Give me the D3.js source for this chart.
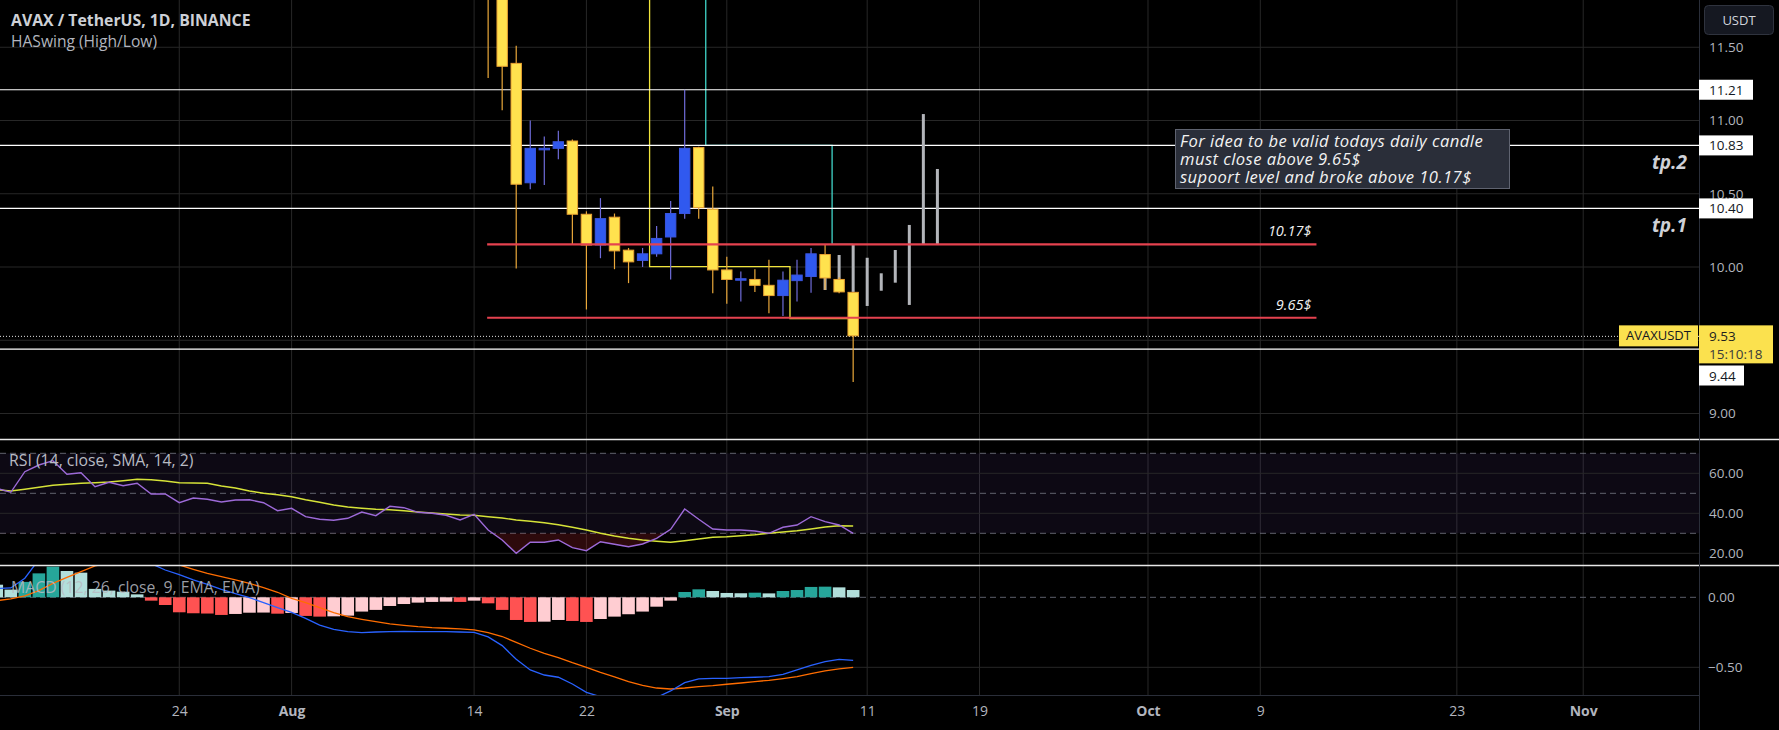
<!DOCTYPE html>
<html><head><meta charset="utf-8">
<script src="https://cdn.jsdelivr.net/npm/d3@7"></script>
<style>
html,body{margin:0;padding:0;background:#000;overflow:hidden;}
svg{display:block;font-family:"Open Sans",sans-serif;}
</style></head><body>
<svg id="c" width="1779" height="730"></svg>
<script>
// ---------------- DATA ----------------
const candleDates = ["2023-08-15","2023-08-16","2023-08-17","2023-08-18","2023-08-19","2023-08-20","2023-08-21","2023-08-22","2023-08-23","2023-08-24","2023-08-25","2023-08-26","2023-08-27","2023-08-28","2023-08-29","2023-08-30","2023-08-31","2023-09-01","2023-09-02","2023-09-03","2023-09-04","2023-09-05","2023-09-06","2023-09-07","2023-09-08","2023-09-09","2023-09-10"];
const candleOpen  = [12.30,11.93,11.39,10.575,10.80,10.81,10.86,10.36,10.15,10.34,10.115,10.045,10.09,10.205,10.365,10.815,10.395,9.98,9.915,9.915,9.875,9.805,9.907,9.935,10.085,9.915,9.827];
const candleHigh  = [12.45,12.00,11.51,11.00,10.89,10.93,10.87,10.38,10.47,10.365,10.13,10.13,10.28,10.45,11.21,10.82,10.55,10.07,9.97,9.985,10.05,9.97,10.05,10.13,10.15,9.93,9.83];
const candleLow   = [11.29,11.07,9.99,10.53,10.56,10.735,10.155,9.71,10.06,9.985,9.89,10.00,10.07,9.915,10.33,10.33,9.82,9.75,9.765,9.83,9.685,9.665,9.765,9.825,9.845,9.82,9.215];
const candleClose = [11.93,11.37,10.565,10.81,10.81,10.855,10.36,10.15,10.33,10.11,10.035,10.09,10.195,10.365,10.81,10.405,9.98,9.915,9.92,9.875,9.805,9.91,9.945,10.09,9.925,9.83,9.53];

// projected bar pattern (grey bars)
const patternDates = ["2023-09-08","2023-09-09","2023-09-10","2023-09-11","2023-09-12","2023-09-13","2023-09-14","2023-09-15","2023-09-16"];
const patternHigh  = [10.08,10.082,10.15,10.063,9.957,10.116,10.287,11.044,10.669];
const patternLow   = [9.843,9.831,9.83,9.734,9.838,9.893,9.741,10.15,10.15];

// HASwing step lines
const swingLowDates  = ["2023-08-26","2023-08-27","2023-08-28","2023-08-29","2023-08-30","2023-08-31","2023-09-01","2023-09-02","2023-09-03","2023-09-04","2023-09-05","2023-09-06","2023-09-07","2023-09-08","2023-09-09","2023-09-10"];
const swingLowValues = [12.6,10.002,10.002,10.002,10.002,10.002,10.002,10.002,10.002,10.002,10.002,9.648,9.648,9.648,9.648,9.648];
const swingHighDates  = ["2023-08-30","2023-08-31","2023-09-01","2023-09-02","2023-09-03","2023-09-04","2023-09-05","2023-09-06","2023-09-07","2023-09-08","2023-09-09","2023-09-10"];
const swingHighValues = [12.8,10.83,10.83,10.83,10.83,10.83,10.83,10.83,10.83,10.83,10.155,10.155];

// horizontal levels
const levelValues = [11.21, 10.83, 10.40, 9.44];
const levelLabels = ["11.21","10.83","10.40","9.44"];
const supportValues = [10.155, 9.6535];
const supportLabels = ["10.17$","9.65$"];
const supportStart = "2023-08-15", supportEnd = "2023-10-13";
const lastPrice = 9.53;
const countdown = "15:10:18";
const symbolName = "AVAXUSDT";
const targetLabels = [{text:"tp.2", price:10.713}, {text:"tp.1", price:10.283}];
const noteLines = ["For idea to be valid todays daily candle","must close above 9.65$","supoort level and broke above 10.17$"];

// indicators: one value per day from 2023-07-11 to 2023-09-10
const indicatorStart = "2023-07-11", indicatorEnd = "2023-09-11";
const rsiValues = [52.5,50.5,60.8,64.15,66.3,59.5,60.3,53.3,55.5,53.8,55.0,49.65,49.65,45.3,47.65,47.0,45.65,46.65,46.8,45.3,41.3,42.5,38.3,37.0,36.5,37.5,40.65,38.8,43.5,42.8,40.5,40.0,39.0,36.65,39.5,31.65,26.65,20.0,25.5,25.5,26.65,22.8,21.3,25.8,24.5,23.3,24.65,27.5,32.0,42.15,37.0,32.15,31.65,31.65,31.15,30.0,33.0,34.15,38.3,35.8,34.15,30.0];
const rsiSmaValues = [51.8,51.15,52.0,53.0,54.0,54.5,55.0,55.3,55.65,56.3,57.0,56.8,56.15,55.3,55.15,55.0,53.65,52.65,51.15,50.0,49.3,48.3,46.8,45.5,44.15,43.15,42.5,42.0,41.8,41.3,40.65,40.15,39.65,39.15,39.0,38.3,37.65,36.65,36.0,35.3,34.3,33.0,31.65,30.0,28.65,27.5,26.65,26.0,25.5,26.3,27.15,28.0,28.3,28.8,29.3,30.0,30.65,31.3,32.15,33.15,33.8,33.65];
const macdValues = [0.062,0.067,0.136,0.27,0.33,0.35,0.36,0.34,0.31,0.29,0.265,0.24,0.195,0.162,0.124,0.093,0.057,0.026,-0.002,-0.038,-0.074,-0.107,-0.15,-0.198,-0.229,-0.245,-0.252,-0.248,-0.245,-0.243,-0.245,-0.245,-0.245,-0.248,-0.25,-0.283,-0.345,-0.443,-0.519,-0.555,-0.571,-0.619,-0.679,-0.71,-0.725,-0.735,-0.735,-0.715,-0.669,-0.61,-0.583,-0.579,-0.579,-0.574,-0.571,-0.567,-0.55,-0.519,-0.486,-0.46,-0.443,-0.45];
const signalValues = [-0.024,-0.012,0.01,0.048,0.1,0.143,0.183,0.224,0.245,0.258,0.265,0.265,0.255,0.231,0.2,0.171,0.148,0.124,0.1,0.069,0.036,-0.007,-0.038,-0.074,-0.11,-0.138,-0.157,-0.174,-0.19,-0.2,-0.21,-0.217,-0.221,-0.226,-0.233,-0.252,-0.28,-0.322,-0.364,-0.4,-0.431,-0.467,-0.5,-0.536,-0.569,-0.602,-0.629,-0.648,-0.655,-0.648,-0.638,-0.631,-0.621,-0.612,-0.602,-0.593,-0.581,-0.567,-0.545,-0.526,-0.512,-0.5];
const histValues = [0.09,0.055,0.11,0.171,0.219,0.188,0.176,0.06,0.048,0.04,0.021,-0.024,-0.055,-0.107,-0.114,-0.116,-0.126,-0.119,-0.11,-0.109,-0.117,-0.112,-0.133,-0.138,-0.136,-0.131,-0.102,-0.09,-0.062,-0.048,-0.038,-0.033,-0.031,-0.033,-0.024,-0.043,-0.09,-0.162,-0.176,-0.174,-0.162,-0.169,-0.176,-0.155,-0.138,-0.121,-0.102,-0.067,-0.024,0.038,0.057,0.045,0.031,0.029,0.033,0.028,0.045,0.052,0.074,0.076,0.071,0.052];
const histBefore = 0.1;

// axes
const priceTicks = [11.5, 11.0, 10.5, 10.0, 9.0];
const priceGrid  = [11.5, 11.0, 10.5, 10.0, 9.5, 9.0];
const rsiTicks = [60, 40, 20];
const rsiLevels = [70, 50, 30];
const macdTicks = [0, -0.5];
const timeTickDates  = ["2023-07-24","2023-08-01","2023-08-14","2023-08-22","2023-09-01","2023-09-11","2023-09-19","2023-10-01","2023-10-09","2023-10-23","2023-11-01"];
const timeTickLabels = ["24","Aug","14","22","Sep","11","19","Oct","9","23","Nov"];

// ---------------- LAYOUT ----------------
const W = 1779, H = 730, plotR = 1699;
const mainP = {top:0, bottom:439};
const rsiP  = {top:440, bottom:565};
const macdP = {top:566, bottom:695};
const D = s => new Date(s);

const svg = d3.select("#c");
const x = d3.scaleUtc().domain([D("2023-07-12"), D("2023-09-11")]).range([10.8, 867.2]);
const yP = d3.scaleLinear().domain([9, 11.5]).range([413.5, 47.25]);
const yR = d3.scaleLinear().domain([20, 70]).range([553.3, 453.3]);
const yM = d3.scaleLinear().domain([-0.5, 0]).range([667.3, 597.3]);

svg.append("rect").attr("width",W).attr("height",H).attr("fill","#000");
const defs = svg.append("defs");
function clip(id, p){ defs.append("clipPath").attr("id",id).append("rect").attr("x",0).attr("y",p.top).attr("width",plotR).attr("height",p.bottom-p.top); }
clip("cMain", mainP); clip("cRsi", rsiP); clip("cMacd", macdP);
defs.append("clipPath").attr("id","cOS").append("rect").attr("x",0).attr("y",yR(30)).attr("width",plotR).attr("height",rsiP.bottom-yR(30));

const gridC = "#272727";
// vertical grid
svg.append("g").selectAll("line").data(timeTickDates).join("line")
  .attr("x1",d=>x(D(d))).attr("x2",d=>x(D(d))).attr("y1",0).attr("y2",696)
  .attr("stroke",gridC).attr("stroke-width",1);
// horizontal grid main
svg.append("g").selectAll("line").data(priceGrid).join("line")
  .attr("x1",0).attr("x2",plotR).attr("y1",d=>yP(d)).attr("y2",d=>yP(d)).attr("stroke",gridC);
// RSI band
svg.append("rect").attr("x",0).attr("width",plotR).attr("y",yR(70)).attr("height",yR(30)-yR(70)).attr("fill","rgba(126,87,194,0.1)");
svg.append("g").selectAll("line").data(rsiTicks).join("line")
  .attr("x1",0).attr("x2",plotR).attr("y1",d=>yR(d)).attr("y2",d=>yR(d)).attr("stroke",gridC);
svg.append("g").selectAll("line").data(rsiLevels).join("line")
  .attr("x1",0).attr("x2",plotR).attr("y1",d=>yR(d)).attr("y2",d=>yR(d))
  .attr("stroke","#787b86").attr("stroke-dasharray","6,4").attr("stroke-opacity",0.8);
// MACD grid
svg.append("line").attr("x1",0).attr("x2",plotR).attr("y1",yM(-0.5)).attr("y2",yM(-0.5)).attr("stroke",gridC);
svg.append("line").attr("x1",0).attr("x2",plotR).attr("y1",yM(0)).attr("y2",yM(0)).attr("stroke","#5d606b").attr("stroke-dasharray","6,4");

// ---------- MAIN PANE ----------
const gMain = svg.append("g").attr("clip-path","url(#cMain)");
// HASwing lines
const swingLine = d3.line().curve(d3.curveStep).x(d=>x(D(d[0]))).y(d=>yP(d[1]));
gMain.append("path").datum(d3.zip(swingHighDates, swingHighValues)).attr("d",swingLine)
  .attr("fill","none").attr("stroke","#40d4c8").attr("stroke-width",1.3);
gMain.append("path").datum(d3.zip(swingLowDates, swingLowValues)).attr("d",swingLine)
  .attr("fill","none").attr("stroke","#f0e43c").attr("stroke-width",1.3);

// white levels
gMain.append("g").selectAll("line").data(levelValues).join("line")
  .attr("x1",0).attr("x2",plotR).attr("y1",d=>yP(d)).attr("y2",d=>yP(d))
  .attr("stroke","#ffffff").attr("stroke-width",1.2);
// last price dotted
gMain.append("line").attr("x1",0).attr("x2",plotR).attr("y1",yP(lastPrice)+0.5).attr("y2",yP(lastPrice)+0.5)
  .attr("stroke","#e6e6e6").attr("stroke-dasharray","1,2").attr("stroke-width",1);

// pattern bars
const bw = 10.4;
gMain.append("g").selectAll("rect").data(patternDates).join("rect")
  .attr("x",(d)=>x(D(d))-1.5).attr("width",3)
  .attr("y",(d,i)=>yP(patternHigh[i])).attr("height",(d,i)=>yP(patternLow[i])-yP(patternHigh[i]))
  .attr("fill","#b3b5ba");

// candles
const cg = gMain.append("g").selectAll("g").data(candleDates).join("g");
cg.append("line")
  .attr("x1",d=>x(D(d))).attr("x2",d=>x(D(d)))
  .attr("y1",(d,i)=>yP(candleHigh[i])).attr("y2",(d,i)=>yP(candleLow[i]))
  .attr("stroke",(d,i)=>candleClose[i]>=candleOpen[i]?"#6f6cd9":"#eaa83a").attr("stroke-width",1.2);
cg.append("rect")
  .attr("x",d=>x(D(d))-bw/2).attr("width",bw)
  .attr("y",(d,i)=>yP(Math.max(candleOpen[i],candleClose[i])))
  .attr("height",(d,i)=>Math.max(1.5,Math.abs(yP(candleOpen[i])-yP(candleClose[i]))))
  .attr("fill",(d,i)=>candleClose[i]>=candleOpen[i]?"#3059ef":"#ffe24e")
  .attr("stroke",(d,i)=>candleClose[i]>=candleOpen[i]?"#3a55e0":"#e9a233").attr("stroke-width",1);

// red support lines
gMain.append("g").selectAll("line").data(supportValues).join("line")
  .attr("x1",x(D(supportStart))-1).attr("x2",x(D(supportEnd)))
  .attr("y1",d=>yP(d)).attr("y2",d=>yP(d)).attr("stroke","#e5424f").attr("stroke-width",2.2);
gMain.append("g").selectAll("text").data(supportValues).join("text")
  .attr("x",x(D(supportEnd))-5).attr("y",d=>yP(d)-8)
  .attr("text-anchor","end").attr("fill","#f0f0f0").attr("font-size",14.5).attr("font-style","italic")
  .text((d,i)=>supportLabels[i]);

// note box
const nb = gMain.append("g");
nb.append("rect").attr("x",1175.5).attr("y",129.5).attr("width",334).attr("height",59)
  .attr("fill","#2a2e39").attr("stroke","#5f6370").attr("stroke-width",1);
nb.append("text").attr("fill","#f2f2f2").attr("font-size",16.6).attr("font-style","italic").attr("letter-spacing",0.45)
  .selectAll("tspan").data(noteLines).join("tspan")
  .attr("x",1180).attr("y",(d,i)=>147+i*18).text(d=>d);

// tp labels
gMain.append("g").selectAll("text").data(targetLabels).join("text")
  .attr("x",1687).attr("y",d=>yP(d.price)+6).attr("text-anchor","end")
  .attr("fill","#cfd1d7").attr("font-size",19).attr("font-weight","bold").attr("font-style","italic")
  .text(d=>d.text);

// ---------- RSI PANE ----------
const days = d3.utcDay.range(D(indicatorStart), D(indicatorEnd));
const gR = svg.append("g").attr("clip-path","url(#cRsi)");
gR.append("path").datum(days).attr("clip-path","url(#cOS)")
  .attr("d", d3.area().x(d=>x(d)).y0(yR(30)).y1((d,i)=>yR(rsiValues[i])))
  .attr("fill","rgba(190,40,50,0.24)");
gR.append("path").datum(days)
  .attr("d", d3.line().x(d=>x(d)).y((d,i)=>yR(rsiSmaValues[i])))
  .attr("fill","none").attr("stroke","#d6e338").attr("stroke-width",1.4);
gR.append("path").datum(days)
  .attr("d", d3.line().x(d=>x(d)).y((d,i)=>yR(rsiValues[i])))
  .attr("fill","none").attr("stroke","#9d6ad8").attr("stroke-width",1.4);

// ---------- MACD PANE ----------
const gM = svg.append("g").attr("clip-path","url(#cMacd)");
const hw = 12.6;
gM.append("g").selectAll("rect").data(days).join("rect")
  .attr("x",d=>x(d)-hw/2).attr("width",hw)
  .attr("y",(d,i)=>Math.min(yM(0),yM(histValues[i])))
  .attr("height",(d,i)=>Math.abs(yM(histValues[i])-yM(0)))
  .attr("fill",(d,i)=>{
    const v=histValues[i], p=i>0?histValues[i-1]:histBefore;
    return v>=0 ? (v>p?"#26a69a":"#b2dfdb") : (v<p?"#ff5252":"#ffcdd2");
  });
gM.append("path").datum(days)
  .attr("d", d3.line().x(d=>x(d)).y((d,i)=>yM(signalValues[i])))
  .attr("fill","none").attr("stroke","#ff6d00").attr("stroke-width",1.3);
gM.append("path").datum(days)
  .attr("d", d3.line().x(d=>x(d)).y((d,i)=>yM(macdValues[i])))
  .attr("fill","none").attr("stroke","#2962ff").attr("stroke-width",1.3);

// ---------- separators / borders ----------
svg.append("line").attr("x1",0).attr("x2",W).attr("y1",439.5).attr("y2",439.5).attr("stroke","#e8e8e8").attr("stroke-width",1.3);
svg.append("line").attr("x1",0).attr("x2",W).attr("y1",565.5).attr("y2",565.5).attr("stroke","#e8e8e8").attr("stroke-width",1.3);
svg.append("line").attr("x1",0).attr("x2",plotR).attr("y1",695.5).attr("y2",695.5).attr("stroke","#2a2e39");
svg.append("line").attr("x1",plotR+0.5).attr("x2",plotR+0.5).attr("y1",0).attr("y2",H).attr("stroke","#2a2e39");

// ---------- AXES ----------
function styleAxis(g, size){
  g.select(".domain").remove();
  g.selectAll("line").remove();
  g.selectAll("text").attr("fill","#b2b5be").attr("font-size",size).attr("font-family","Open Sans, sans-serif");
}
const fmt = v => (v<0?"\u2212":"") + Math.abs(v).toFixed(2);
svg.append("g").attr("transform",`translate(${plotR},0)`)
  .call(d3.axisRight(yP).tickValues(priceTicks).tickSize(0).tickPadding(10).tickFormat(fmt))
  .call(g=>styleAxis(g,13.5));
svg.append("g").attr("transform",`translate(${plotR},0)`)
  .call(d3.axisRight(yR).tickValues(rsiTicks).tickSize(0).tickPadding(10).tickFormat(fmt))
  .call(g=>styleAxis(g,13.5));
svg.append("g").attr("transform",`translate(${plotR},0)`)
  .call(d3.axisRight(yM).tickValues(macdTicks).tickSize(0).tickPadding(9).tickFormat(fmt))
  .call(g=>styleAxis(g,13.5));
svg.append("g").attr("transform","translate(0,700)")
  .call(d3.axisBottom(x).tickValues(timeTickDates.map(D)).tickSize(0).tickPadding(6).tickFormat((d,i)=>timeTickLabels[i]))
  .call(g=>{ styleAxis(g,14); g.selectAll("text").attr("font-weight",(d,i)=>isNaN(+timeTickLabels[i])?"bold":"normal"); });

// level labels on axis (white boxes)
const lvlY = [yP(11.21), yP(10.83), yP(10.40), 375.5];
const lvlW = [54, 54, 54, 45];
const lb = svg.append("g").selectAll("g").data(levelLabels).join("g");
lb.append("rect").attr("x",plotR).attr("y",(d,i)=>lvlY[i]-10).attr("width",(d,i)=>lvlW[i]).attr("height",20).attr("fill","#ffffff");
lb.append("text").attr("x",plotR+10).attr("y",(d,i)=>lvlY[i]+5).attr("fill","#131722").attr("font-size",13.5).text(d=>d);

// last price label
const ly = yP(lastPrice);
svg.append("rect").attr("x",plotR).attr("y",ly-10.5).attr("width",74).attr("height",38).attr("fill","#fbe14e");
svg.append("text").attr("x",plotR+10).attr("y",ly+5).attr("fill","#1e1e1e").attr("font-size",13.5).text(lastPrice.toFixed(2));
svg.append("text").attr("x",plotR+10).attr("y",ly+23).attr("fill","#3a3a3a").attr("font-size",13.5).text(countdown);
svg.append("rect").attr("x",1619).attr("y",ly-10.5).attr("width",79).attr("height",21).attr("fill","#fbe14e");
svg.append("text").attr("x",1658.5).attr("y",ly+4.5).attr("text-anchor","middle").attr("fill","#131722").attr("font-size",13).text(symbolName);

// currency button
svg.append("rect").attr("x",1704.5).attr("y",5.5).attr("width",69).attr("height",29).attr("rx",4)
  .attr("fill","#151821").attr("stroke","#2f333e");
svg.append("text").attr("x",1739).attr("y",25).attr("text-anchor","middle").attr("fill","#d1d4dc").attr("font-size",13).text("USDT");

// ---------- LEGENDS ----------
svg.append("text").attr("x",11).attr("y",26).attr("fill","#cdd0d6").attr("font-size",15.8).attr("font-weight","bold").text("AVAX / TetherUS, 1D, BINANCE");
svg.append("text").attr("x",11).attr("y",47).attr("fill","#b2b5be").attr("font-size",15.6).text("HASwing (High/Low)");
svg.append("text").attr("x",9).attr("y",466).attr("fill","#b8bbc3").attr("font-size",15.8).text("RSI (14, close, SMA, 14, 2)");
svg.append("text").attr("x",11).attr("y",593).attr("fill","#b8bbc3").attr("fill-opacity",0.85).attr("font-size",15.8).text("MACD (12, 26, close, 9, EMA, EMA)");
</script>
</body></html>
